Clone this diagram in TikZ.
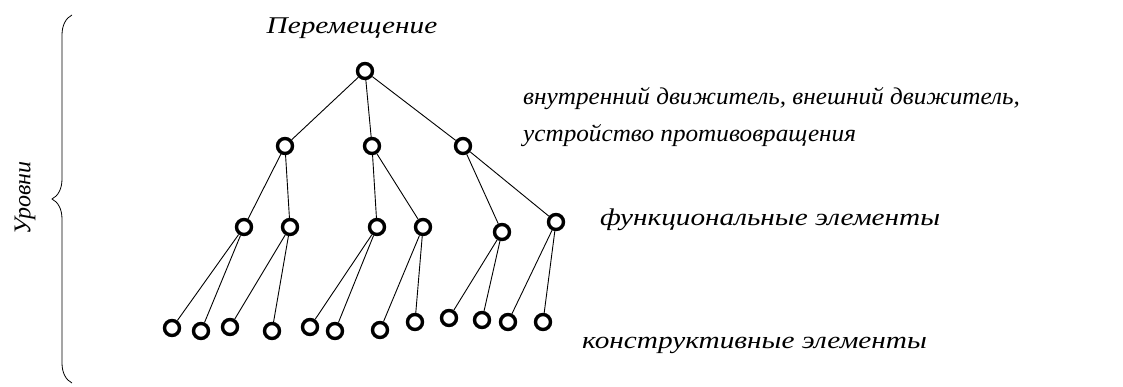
\documentclass[tikz,border=0pt]{standalone}
\usepackage{fontspec}
\setmainfont{Liberation Serif}[FakeStretch=1.22]
\newfontfamily\narrowserif{Liberation Serif}[FakeStretch=1.05]
\newfontfamily\plainserif{Liberation Serif}
\usetikzlibrary{decorations.pathreplacing}
\tikzset{vertex/.style={circle,draw,line width=3.4pt,minimum size=15pt,inner sep=0pt},
 branch/.style={line width=0.9pt},
 caption/.style={font=\itshape\fontsize{24}{37}\selectfont,inner sep=0pt},
 }

\begin{document}
\begin{tikzpicture}[x=1pt,y=-1pt]
        \useasboundingbox (0,0) rectangle (1123,387);
        % root and the first two levels
        \node[vertex] (n0) at (365,71) {};
        \foreach \x/\y[count=\i] in {285/146, 372/146, 463/146} {
            \node[vertex] (a\i) at (\x,\y) {};
        }
        \foreach \x/\y[count=\i] in {244/227, 290/227, 377/227, 423/227, 502/232, 556/222} {
            \node[vertex] (b\i) at (\x,\y) {};
        }
        % bottom level
        \foreach \x/\y[count=\i] in {172/328, 201/331, 230/327, 272/331, 310/327, 335/331,
            380/330, 415/322, 449/318, 482/320, 508/322, 543/322} {
            \node[vertex] (c\i) at (\x,\y) {};
        }
        % edges
        \foreach \i in {1,2,3} {
            \draw[branch] (n0) -- (a\i);
        }
        \draw[branch] (a1) -- (b1);
        \draw[branch] (a1) -- (b2);
        \draw[branch] (a2) -- (b3);
        \draw[branch] (a2) -- (b4);
        \draw[branch] (a3) -- (b5);
        \draw[branch] (a3) -- (b6);
        \foreach \j[evaluate=\j as \k using int(2*\j-1), evaluate=\j as \m using int(2*\j)] in {1,...,6} {
            \draw[branch] (b\j) -- (c\k);
            \draw[branch] (b\j) -- (c\m);
        }
        % texts
        \node[caption] (title) at (352,28) {Перемещение};
        \node[caption, anchor=west, align=left, font=\narrowserif\itshape\fontsize{24}{37}\selectfont] (lvl1) at (523,117)
            {внутренний движитель, внешний движитель,\\устройство противовращения};
        \node[caption, anchor=west] (lvl2) at (600,220) {функциональные элементы};
        \node[caption, anchor=west] (lvl3) at (582,345) {конструктивные элементы};
        % brace
        \coordinate (bt) at (72,15);
        \coordinate (bb) at (72,383);
        \draw[line width=0.8pt, decorate, decoration={brace, amplitude=20pt}] (bb) -- (bt);
        \node[caption, rotate=90, font=\plainserif\itshape\fontsize{24}{28}\selectfont] (levels) at (25,198) {Уровни};
    \end{tikzpicture}
\end{document}
